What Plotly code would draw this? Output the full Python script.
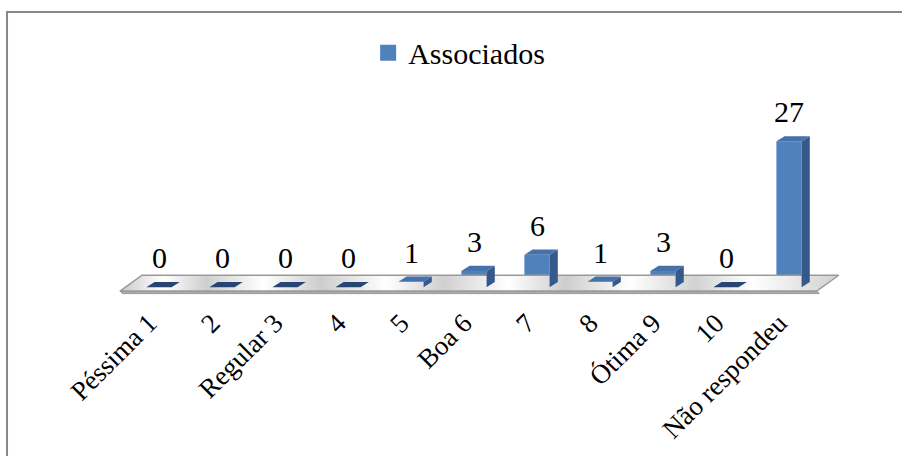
import plotly.graph_objects as go

# Survey answers (Associados)
categories = ["Péssima 1", "2", "Regular 3", "4", "5", "Boa 6", "7", "8",
              "Ótima 9", "10", "Não respondeu"]
associados = [0, 0, 0, 0, 1, 3, 6, 1, 3, 0, 27]

SERIF = "Times New Roman, Liberation Serif, DejaVu Serif, serif"
FRONT = "#4f81bd"
TOP = "#4572ab"
SIDE = "#34598a"
ZERO_TOP = "#264572"

# pseudo-3D geometry (data units)
BAR_W = 0.4
DX, DY = 0.13, 0.95          # depth offset of bar top/side faces
n = len(categories)
xs = list(range(n))

fig = go.Figure()

# floor slab
fl_x0, fl_x1 = -0.62, n - 1 + 0.44
fl_dx, fl_front, fl_back, fl_base = 0.35, -0.73, 2.2, -1.2
fig.add_trace(go.Scatter(
    x=[fl_x0, fl_x1, fl_x1 + 0.04, fl_x0 + 0.04, fl_x0],
    y=[fl_front, fl_front, fl_base, fl_base, fl_front],
    fill="toself", mode="lines", fillcolor="#a9a9a9",
    line=dict(color="#9a9a9a", width=1), hoverinfo="skip", showlegend=False))
fig.add_trace(go.Scatter(
    x=[fl_x0, fl_x1, fl_x1 + fl_dx, fl_x0 + fl_dx, fl_x0],
    y=[fl_front, fl_front, fl_back, fl_back, fl_front],
    fill="toself", mode="lines",
    fillgradient=dict(type="horizontal", colorscale=[
        [0.0, "#c9c9c9"], [0.06, "#ffffff"], [0.12, "#cfcfcf"], [0.2, "#ffffff"],
        [0.28, "#cdcdcd"], [0.37, "#ffffff"], [0.45, "#d0d0d0"], [0.54, "#ffffff"],
        [0.62, "#cdcdcd"], [0.71, "#ffffff"], [0.8, "#d2d2d2"], [0.88, "#ffffff"],
        [1.0, "#d0d0d0"]]),
    line=dict(color="#9a9a9a", width=1.5), hoverinfo="skip", showlegend=False))

# bar front faces
fig.add_trace(go.Bar(x=xs, y=associados, width=BAR_W, name="Associados",
                     showlegend=False,
                     marker=dict(color=FRONT, line=dict(width=0))))


def faces(values, pick):
    tx, ty, sx, sy = [], [], [], []
    for x, v in zip(xs, values):
        if not pick(v):
            continue
        l, r = x - BAR_W / 2, x + BAR_W / 2
        tx += [l, r, r + DX, l + DX, l, None]
        ty += [v, v, v + DY, v + DY, v, None]
        if v > 0:
            sx += [r, r + DX, r + DX, r, r, None]
            sy += [0, DY, v + DY, v, 0, None]
    return tx, ty, sx, sy


tx, ty, sx, sy = faces(associados, lambda v: v > 0)
fig.add_trace(go.Scatter(x=sx, y=sy, fill="toself", mode="lines", fillcolor=SIDE,
                         line=dict(width=0, color=SIDE), hoverinfo="skip", showlegend=False))
fig.add_trace(go.Scatter(x=tx, y=ty, fill="toself", mode="lines", fillcolor=TOP,
                         line=dict(width=0, color=TOP), hoverinfo="skip", showlegend=False))
zx, zy, _, _ = faces(associados, lambda v: v == 0)
fig.add_trace(go.Scatter(x=zx, y=zy, fill="toself", mode="lines", fillcolor=ZERO_TOP,
                         line=dict(width=0, color=ZERO_TOP), hoverinfo="skip", showlegend=False))

# legend entry for the series (square swatch)
fig.add_trace(go.Scatter(x=[None], y=[None], mode="markers", name="Associados",
                         marker=dict(symbol="square", size=16, color=FRONT)))

# value labels
for x, v in zip(xs, associados):
    fig.add_annotation(x=x, y=v, text=str(v), showarrow=False, yanchor="bottom",
                       yshift=11, font=dict(family=SERIF, size=30, color="black"))

# chart frame
fig.add_shape(type="rect", xref="paper", yref="paper", x0=-0.1177, x1=1.09,
              y0=-0.8, y1=1.438, line=dict(color="#878787", width=2), layer="below")

fig.update_layout(
    width=902, height=456,
    margin=dict(l=96, r=50, t=100, b=153),
    paper_bgcolor="white", plot_bgcolor="white",
    font=dict(family=SERIF),
    showlegend=True,
    legend=dict(orientation="h", x=0.36, xanchor="left", y=1.235, yanchor="middle",
                font=dict(family=SERIF, size=30, color="black"),
                itemsizing="trace", bgcolor="rgba(0,0,0,0)"),
    xaxis=dict(range=[-1, n], tickmode="array", tickvals=xs, ticktext=categories,
               tickangle=-45, showgrid=False, zeroline=False, showline=False,
               ticks="", ticklabelshift=-10,
               tickfont=dict(family=SERIF, size=27, color="black"),
               fixedrange=True),
    yaxis=dict(range=[-2.566, 34.65], visible=False, fixedrange=True),
)

fig.write_html("out.html")
